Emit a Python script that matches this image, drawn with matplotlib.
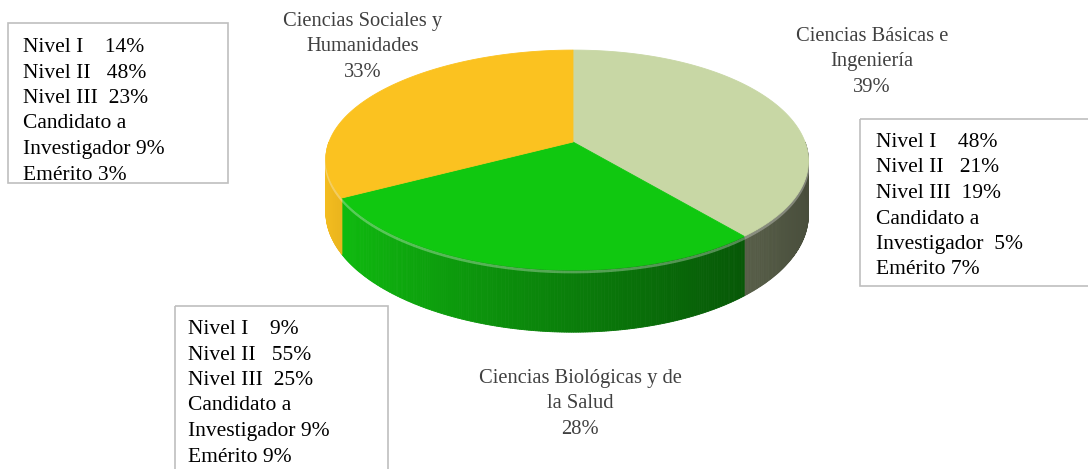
import numpy as np
import matplotlib.pyplot as plt
from matplotlib.patches import Rectangle
from matplotlib.colors import to_rgb

# Share of researchers by area (clockwise from 12 o'clock)
areas = ["Ciencias Básicas e\nIngeniería",
         "Ciencias Biológicas y de\nla Salud",
         "Ciencias Sociales y\nHumanidades"]
shares = [39, 28, 33]
top_colors = ["#c8d7a5", "#10c810", "#fbc220"]

# Breakdown by SNI level for each area
basicas = [48, 21, 19, 5, 7]
biologicas = [9, 55, 25, 9, 9]
sociales = [14, 48, 23, 9, 3]

plt.rcParams['font.family'] = ['Liberation Serif', 'DejaVu Serif']

fig = plt.figure(figsize=(10.88, 4.69), dpi=100)
ax = fig.add_axes([0, 0, 1, 1])
ax.set_xlim(0, 1088)
ax.set_ylim(469, 0)
ax.axis('off')

# pie geometry (screen pixels) with a little perspective
cx, cy = 573, 142
A, B, k = 238, 107, 0.164
H0 = 52
skew = 6


def top_pt(t):
    u, v = np.cos(t), np.sin(t)
    d = 1 + k * v
    return cx + A * u / d - skew * u * u, cy - B * v / d


def bot_pt(t):
    x, y = top_pt(t)
    return x, y + H0 / (1 + k * np.sin(t))


def shade(c, f):
    r, g, b = to_rgb(c)
    return (r * f, g * f, b * f)


# wedge angles, clockwise from 90 deg
fracs = np.array(shares) / sum(shares)
bounds = np.pi / 2 - 2 * np.pi * np.concatenate([[0], np.cumsum(fracs)])

# sides first (only the front half is visible), lit from the left
for i, col in enumerate(top_colors):
    t1, t2 = bounds[i], bounds[i + 1]   # t1 > t2
    for off in (0, -2 * np.pi):
        lo = max(t2 - off, -np.pi)
        hi = min(t1 - off, 0)
        if hi <= lo:
            continue
        ts = np.linspace(lo, hi, int((hi - lo) * 120) + 2)
        for a, b in zip(ts[:-1], ts[1:]):
            xa, ya = top_pt(a)
            xb, yb = top_pt(b)
            xc, yc = bot_pt(b)
            xd, yd = bot_pt(a)
            m = 0.5 * (a + b)
            f = 0.36 + 0.62 * ((1 - np.cos(m)) / 2) ** 1.2
            c = shade(col, f)
            ax.fill([xa, xb, xc, xd], [ya, yb, yc, yd], color=c, lw=0.6, ec=c, zorder=2)
        # soft highlight just under the rim
        hx, hy = zip(*[top_pt(t) for t in ts])
        ax.plot(hx, np.array(hy) + 2, color='white', alpha=0.3, lw=2.0, zorder=3,
                solid_capstyle='butt')

# top faces
for i, col in enumerate(top_colors):
    t1, t2 = bounds[i], bounds[i + 1]
    ts = np.linspace(t1, t2, 200)
    xs, ys = zip(*[top_pt(t) for t in ts])
    ax.fill([cx, *xs], [cy, *ys], color=col, lw=0.6, ec=col, zorder=4)

# area labels, one line at a time
label_pos = [(872, 41), (580, 383), (363, 26)]
for name, s, (x, y) in zip(areas, shares, label_pos):
    for j, line in enumerate(f"{name}\n{s}%".split("\n")):
        ax.text(x, y + 25.3 * j, line, ha='center', va='baseline', fontsize=14.8,
                color='#404040', zorder=5)


def box_lines(vals, gap_inv=" "):
    return [f"Nivel I    {vals[0]}%",
            f"Nivel II   {vals[1]}%",
            f"Nivel III  {vals[2]}%",
            "Candidato a",
            f"Investigador{gap_inv}{vals[3]}%",
            f"Emérito {vals[4]}%"]


boxes = [
    (sociales, " ", (8, 23, 220, 160), (23, 52)),
    (basicas, "  ", (860, 119, 240, 167), (876, 147)),
    (biologicas, " ", (175, 306, 213, 180), (188, 334)),
]
for vals, gap, (bx, by, bw, bh), (tx, ty) in boxes:
    rect = Rectangle((bx, by), bw, bh, fill=False, ec='#bfbfbf', lw=1.2, zorder=5)
    ax.add_patch(rect)
    for j, line in enumerate(box_lines(vals, gap)):
        t = ax.text(tx, ty + 25.5 * j, line, ha='left', va='baseline', fontsize=15.5,
                    color='black', zorder=6)
        t.set_clip_path(rect)

fig.savefig('out.png', dpi=100)
